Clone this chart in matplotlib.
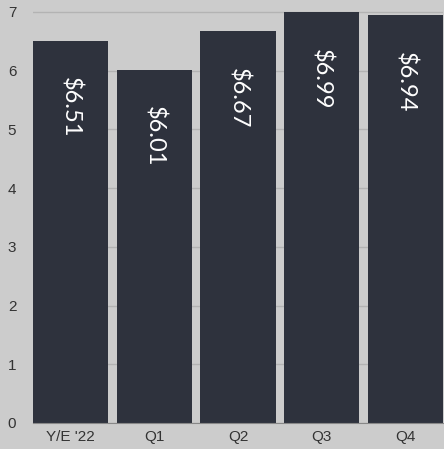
import matplotlib
matplotlib.use("Agg")
import matplotlib.pyplot as plt
import numpy as np

categories = ["Y/E '22", "Q1", "Q2", "Q3", "Q4"]
values = [6.51, 6.01, 6.67, 6.99, 6.94]
value_labels = ["$6.51", "$6.01", "$6.67", "$6.99", "$6.94"]

bg = "#cccccc"
bar_color = "#2e323d"

fig = plt.figure(figsize=(4.44, 4.49), dpi=100, facecolor=bg)
ax = fig.add_axes([33 / 444, 26 / 449, 410 / 444, 423 / 449])
ax.set_facecolor(bg)

x = np.arange(len(categories))
ax.bar(x, values, width=0.9, color=bar_color, zorder=3)

for xi, v, lab in zip(x, values, value_labels):
    ax.text(xi, v - 0.62, lab, rotation=270, ha="center", va="top",
            color="white", fontsize=17, family="Lato", zorder=4)

ax.set_xlim(-0.45, 4.45)
ax.set_ylim(0, 7.2)
ax.set_yticks(range(0, 8))
ax.set_xticks(x)
ax.set_xticklabels(categories)
ax.grid(axis="y", color="#b3b3b3", linewidth=1, zorder=0)
ax.tick_params(length=0, labelsize=11, colors="#333333")
ax.tick_params(axis="y", pad=12)
ax.tick_params(axis="x", pad=5)
for lbl in ax.get_xticklabels() + ax.get_yticklabels():
    lbl.set_family("Liberation Sans")
for side in ["top", "right", "left"]:
    ax.spines[side].set_visible(False)
ax.spines["bottom"].set_color("#888888")
ax.spines["bottom"].set_zorder(5)

fig.savefig("out.png", dpi=100, facecolor=bg)
